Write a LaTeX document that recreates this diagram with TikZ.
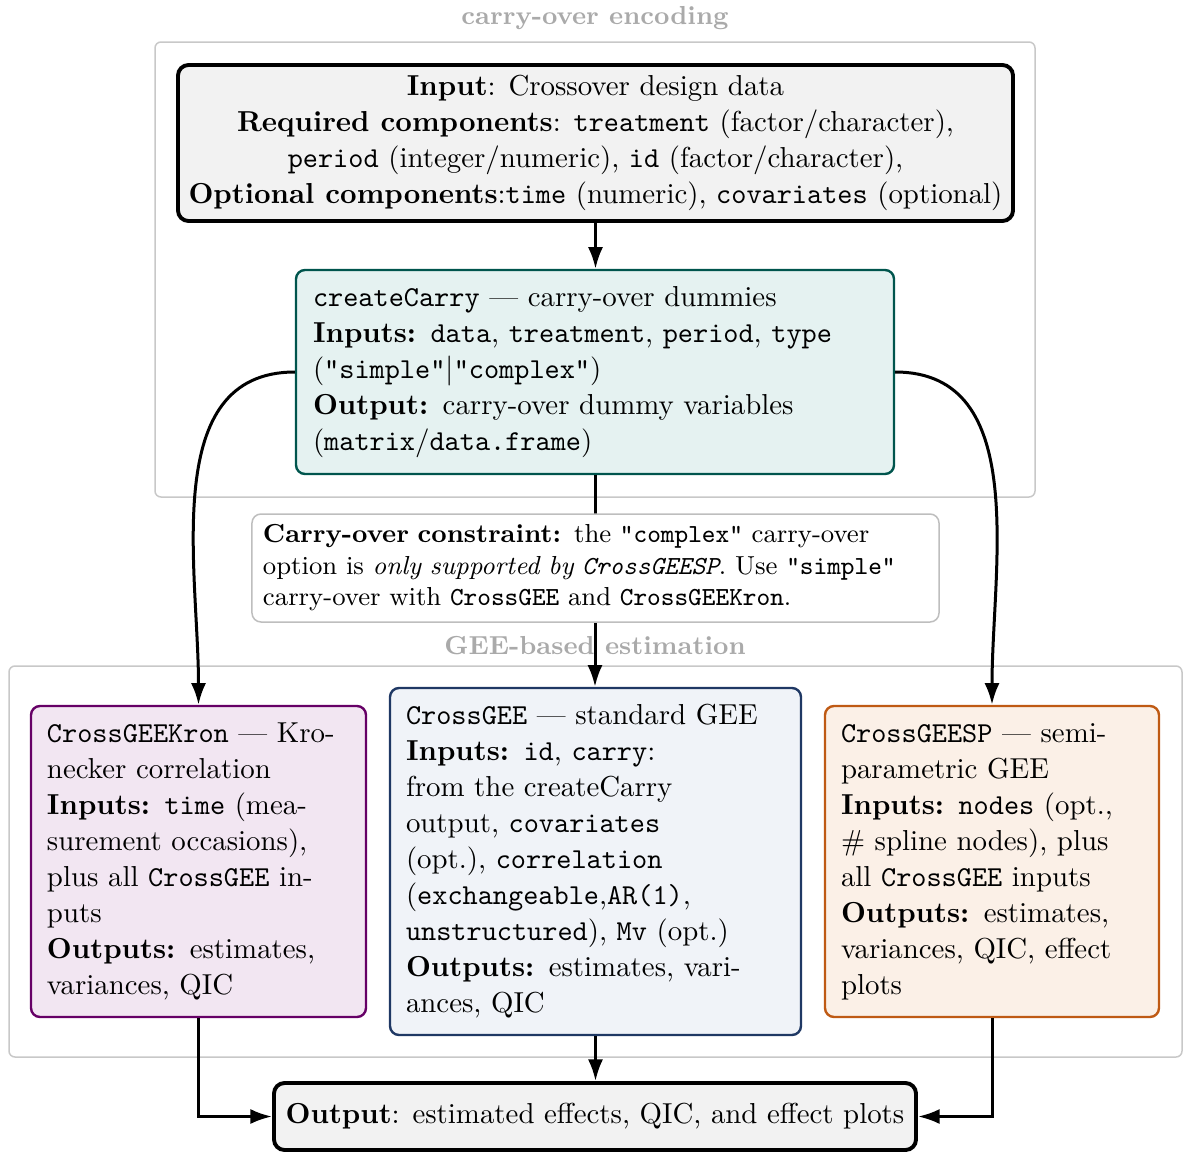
\documentclass[tikz,border=0pt]{standalone}
\usetikzlibrary{arrows.meta}
\definecolor{grpgray}{RGB}{200,200,200}
\definecolor{titlegray}{RGB}{170,170,170}
\definecolor{iofill}{RGB}{242,242,242}
\definecolor{ccdraw}{RGB}{0,85,77}
\definecolor{ccfill}{RGB}{229,242,241}
\definecolor{krdraw}{RGB}{102,0,102}
\definecolor{krfill}{RGB}{242,230,242}
\definecolor{gedraw}{RGB}{31,56,100}
\definecolor{gefill}{RGB}{240,243,248}
\definecolor{spdraw}{RGB}{191,90,20}
\definecolor{spfill}{RGB}{251,240,231}
\definecolor{cnsdraw}{RGB}{190,190,190}
\newcommand{\mainsize}{\fontsize{9.62}{12}\selectfont}
\newcommand{\notesize}{\fontsize{8.68}{10.5}\selectfont}
\begin{document}
\begin{tikzpicture}[x=0.333333pt,y=-0.333333pt,
  every node/.style={font=\mainsize},
  grp/.style={draw=grpgray, line width=0.5pt, rounded corners=2pt},
  grptitle/.style={font=\notesize\bfseries, text=titlegray, inner sep=0pt},
  iobox/.style={draw=black, line width=1.3pt, fill=iofill, rounded corners=3.5pt, align=center, inner sep=0pt},
  fnbox/.style={line width=0.8pt, rounded corners=3pt, align=left, inner xsep=5.33pt, inner ysep=0pt},
  cnsbox/.style={draw=cnsdraw, line width=0.5pt, fill=white, rounded corners=3pt, align=left, inner xsep=3.67pt, inner ysep=0pt, font=\notesize},
  arr/.style={-{Latex[length=7.2pt,width=5pt]}, line width=1pt}]
\useasboundingbox (0,0) rectangle (1186,1152);

% groups
\draw[grp] (155,42) rectangle (1035,497);
\node[grptitle] (t1) at (595,18) {carry-over encoding};
\draw[grp] (9,666) rectangle (1182,1057);
\node[grptitle] (t2) at (595,646) {GEE-based estimation};

% nodes
\node[iobox, minimum width=278.33pt, minimum height=52pt] (inp) at (595.5,143) {%
\textbf{Input}: Crossover design data\\
\textbf{Required components}: \texttt{treatment} (factor/character),\\
\texttt{period} (integer/numeric), \texttt{id} (factor/character),\\
\textbf{Optional components}:\texttt{time} (numeric), \texttt{covariates} (optional)};

\node[fnbox, draw=ccdraw, fill=ccfill, text width=188pt, inner xsep=5.67pt, minimum height=68pt] (cc) at (595,372) {%
\texttt{createCarry} --- carry-over dummies\\
\textbf{Inputs:} \texttt{data}, \texttt{treatment}, \texttt{period}, \texttt{type}\\
(\texttt{"simple"}$|$\texttt{"complex"})\\
\textbf{Output:} carry-over dummy variables\\
(\texttt{matrix}/\texttt{data.frame})};

\node[fnbox, draw=krdraw, fill=krfill, text width=101pt, minimum height=103.67pt] (kron) at (198.5,861.5) {%
\texttt{CrossGEEKron} --- Kro-\\
necker correlation\\
\textbf{Inputs:} \texttt{time} (mea-\\
surement occasions),\\
plus all \texttt{CrossGEE} in-\\
puts\\
\textbf{Outputs:} estimates,\\
variances, QIC};

\node[fnbox, draw=gedraw, fill=gefill, text width=126.33pt, minimum height=115.67pt] (gee) at (595.5,861.5) {%
\texttt{CrossGEE} --- standard GEE\\
\textbf{Inputs:} \texttt{id}, \texttt{carry}:\\
from the createCarry\\
output, \texttt{covariates}\\
(opt.), \texttt{correlation}\\
(\texttt{exchangeable},\texttt{AR(1)},\\
\texttt{unstructured}), \texttt{Mv} (opt.)\\
\textbf{Outputs:} estimates, vari-\\
ances, QIC};

\node[fnbox, draw=spdraw, fill=spfill, text width=100.67pt, minimum height=103.67pt] (sp) at (992,861.5) {%
\texttt{CrossGEESP} --- semi-\\
parametric GEE\\
\textbf{Inputs:} \texttt{nodes} (opt.,\\
\# spline nodes), plus\\
all \texttt{CrossGEE} inputs\\
\textbf{Outputs:} estimates,\\
variances, QIC, effect\\
plots};

\node[iobox, minimum width=214pt, minimum height=22.33pt] (out) at (595,1116.5) {%
\textbf{Output}: estimated effects, QIC, and effect plots};

% connectors
\draw[arr] (inp.south) -- (inp.south |- cc.north);
\draw[arr] (cc.south) -- (cc.south |- gee.north);
\draw[arr] (cc.west) to[out=180,in=90] (kron.north);
\draw[arr] (cc.east) to[out=0,in=90] (sp.north);
\draw[arr] (kron.south) |- (out.west);
\draw[arr] (gee.south) -- (gee.south |- out.north);
\draw[arr] (sp.south) |- (out.east);

% constraint note (drawn over the connector)
\node[cnsbox, text width=221.67pt, minimum height=36pt] (cns) at (595.5,568) {%
\textbf{Carry-over constraint:} the \texttt{"complex"} carry-over\\
option is \emph{only supported by \texttt{CrossGEESP}}. Use \texttt{"simple"}\\
carry-over with \texttt{CrossGEE} and \texttt{CrossGEEKron}.};
\end{tikzpicture}
\end{document}
